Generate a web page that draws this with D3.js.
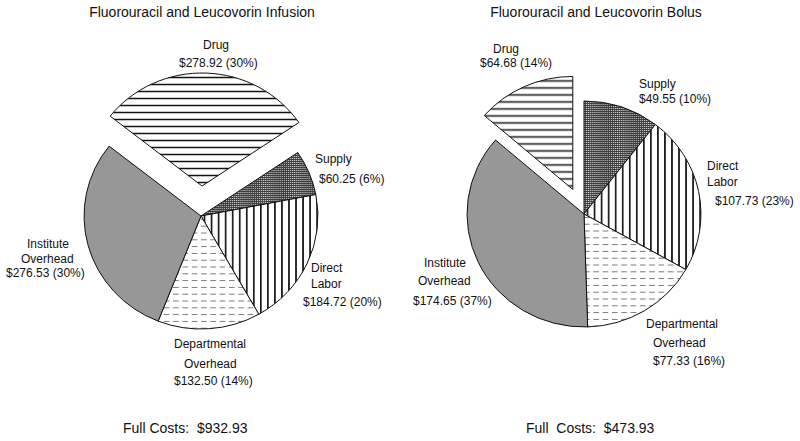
<!DOCTYPE html>
<html>
<head>
<meta charset="utf-8">
<script src="https://cdn.jsdelivr.net/npm/d3@7"></script>
<style>
  body { margin: 0; background: #fff; }
  svg { display: block; }
  text { font-family: "Liberation Sans", Arial, sans-serif; fill: #111; white-space: pre; }
</style>
</head>
<body>
<svg id="chart" width="800" height="441"></svg>
<script>
// ---- data ----
const categories = ["Drug", "Supply", "Direct Labor", "Departmental Overhead", "Institute Overhead"];
const categoryLines = [["Drug"], ["Supply"], ["Direct", "Labor"], ["Departmental", "Overhead"], ["Institute", "Overhead"]];
const infusionValues = [278.92, 60.25, 184.72, 132.50, 276.53];
const infusionPercents = [30, 6, 20, 14, 30];
const bolusValues = [64.68, 49.55, 107.73, 77.33, 174.65];
const bolusPercents = [14, 10, 23, 16, 37];
const chartTitles = ["Fluorouracil and Leucovorin Infusion", "Fluorouracil and Leucovorin Bolus"];
const fullCostLabels = ["Full Costs:  $932.93", "Full  Costs:  $473.93"];

// ---- layout / style (not data) ----
const fills = ["url(#hlines)", "url(#dots)", "url(#vlines)", "url(#dashes)", "#979797"];
const charts = [
  {
    values: infusionValues, percents: infusionPercents, title: chartTitles[0], full: fullCostLabels[0],
    cx: 201, cy: 216, startAngle: -0.904, explode: [30, 0, 0, 0, 0],
    titleX: 202, fullPos: [123, 433],
    labelPos: [
      [[203, 49], [179, 67]],
      [[315, 163], [319, 183]],
      [[311, 272], [311, 288], [303, 306]],
      [[174, 348], [184, 368], [174, 385]],
      [[27, 248], [21, 263], [6, 277]]
    ]
  },
  {
    values: bolusValues, percents: bolusPercents, title: chartTitles[1], full: fullCostLabels[1],
    cx: 584, cy: 214, startAngle: -0.8575, explode: [27, 0, 0, 0, 0],
    titleX: 596, fullPos: [526, 433],
    labelPos: [
      [[493, 53], [480, 67]],
      [[639, 88], [639, 103]],
      [[707, 170], [707, 186], [715, 205]],
      [[646, 328], [653, 347], [653, 365]],
      [[424, 267], [418, 285], [413, 305]]
    ]
  }
];
const radius = 113;
const xStretch = 1.035;

const svg = d3.select("#chart");
const defs = svg.append("defs");

// horizontal lines
const ph = defs.append("pattern").attr("id", "hlines").attr("patternUnits", "userSpaceOnUse")
  .attr("width", 8).attr("height", 7);
ph.append("rect").attr("width", 8).attr("height", 7).attr("fill", "#fff");
ph.append("line").attr("x1", 0).attr("x2", 8).attr("y1", 3.5).attr("y2", 3.5)
  .attr("stroke", "#111").attr("stroke-width", 1.5);

// vertical lines
const pv = defs.append("pattern").attr("id", "vlines").attr("patternUnits", "userSpaceOnUse")
  .attr("width", 6.8).attr("height", 8);
pv.append("rect").attr("width", 6.8).attr("height", 8).attr("fill", "#fff");
pv.append("line").attr("x1", 3.4).attr("x2", 3.4).attr("y1", 0).attr("y2", 8)
  .attr("stroke", "#111").attr("stroke-width", 1.6);

// dense dots
const pd = defs.append("pattern").attr("id", "dots").attr("patternUnits", "userSpaceOnUse")
  .attr("width", 2).attr("height", 2);
pd.append("rect").attr("width", 2).attr("height", 2).attr("fill", "#3f3f3f");
pd.append("rect").attr("width", 1).attr("height", 1).attr("fill", "#cfcfcf");

// dashed horizontal lines
const pdash = defs.append("pattern").attr("id", "dashes").attr("patternUnits", "userSpaceOnUse")
  .attr("width", 9).attr("height", 6.8);
pdash.append("rect").attr("width", 9).attr("height", 6.8).attr("fill", "#fff");
pdash.append("line").attr("x1", 0).attr("x2", 5.5).attr("y1", 3.4).attr("y2", 3.4)
  .attr("stroke", "#777").attr("stroke-width", 1);

const arc = d3.arc().innerRadius(0).outerRadius(radius);

charts.forEach(ch => {
  const pie = d3.pie().sort(null).value(d => d)
    .startAngle(ch.startAngle).endAngle(ch.startAngle + 2 * Math.PI);
  const arcs = pie(ch.values);

  const g = svg.append("g").attr("transform", `translate(${ch.cx},${ch.cy}) scale(${xStretch},1)`);
  g.selectAll("path").data(arcs).join("path")
    .attr("transform", (d, i) => {
      const a = (d.startAngle + d.endAngle) / 2;
      const off = ch.explode[i];
      return `translate(${off * Math.sin(a) / xStretch},${-off * Math.cos(a)})`;
    })
    .attr("d", arc)
    .attr("fill", (d, i) => fills[i])
    .attr("stroke", "#111")
    .attr("stroke-width", 1)
    .attr("stroke-linejoin", "round")
    .attr("vector-effect", "non-scaling-stroke");

  // title
  svg.append("text").attr("x", ch.titleX).attr("y", 17).attr("text-anchor", "middle")
    .attr("font-size", 14).text(ch.title);

  // labels
  arcs.forEach((d, i) => {
    const lines = categoryLines[i].concat([`$${ch.values[i].toFixed(2)} (${ch.percents[i]}%)`]);
    lines.forEach((t, k) => {
      const p = ch.labelPos[i][k];
      svg.append("text").attr("x", p[0]).attr("y", p[1]).attr("font-size", 12).text(t);
    });
  });

  svg.append("text").attr("x", ch.fullPos[0]).attr("y", ch.fullPos[1])
    .attr("font-size", 14).text(ch.full);
});
</script>
</body>
</html>
